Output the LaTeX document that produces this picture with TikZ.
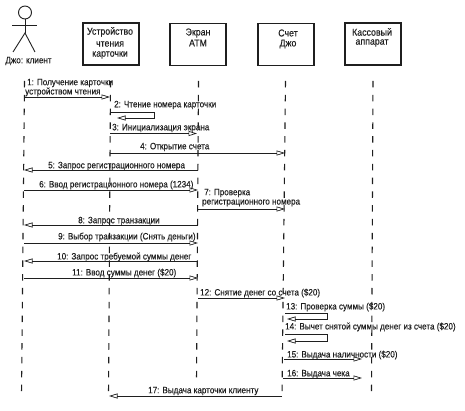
\documentclass[tikz,border=0pt]{standalone}
\usepackage{fontspec}
\setmainfont[FakeStretch=0.88,FakeBold=0.25]{Liberation Sans}
\usetikzlibrary{arrows.meta}
\definecolor{ink}{gray}{0.12}
\tikzset{
  x=1pt,y=-1pt,
  objbox/.style={draw=ink,line width=1.3pt,fill=white,minimum width=56pt,minimum height=42pt,inner sep=0pt},
  txt/.style={text=ink,font=\fontsize{10}{11}\selectfont,inner sep=0pt,anchor=center},
  lab/.style={text=ink,font=\fontsize{9.2}{10}\selectfont,inner sep=0pt,anchor=west},
  life/.style={draw=ink,line width=1.1pt,dash pattern=on 6.5pt off 7.3pt},
  msg/.style={draw=ink,line width=.8pt,-{Triangle[open,length=8.5pt,width=5pt,line width=.7pt]}},
  actorline/.style={draw=ink,line width=.9pt},
}
\begin{document}
\begin{tikzpicture}
\useasboundingbox (0,0) rectangle (465,411);
% objects
\node[objbox] (b2) at (111,44) {};
\node[objbox] (b3) at (198,44.5) {};
\node[objbox] (b4) at (286,44.5) {};
\node[objbox] (b5) at (373,44) {};
\node[txt] (t21) at (110,32) {Устройство};
\node[txt] (t22) at (110,44) {чтения};
\node[txt] (t23) at (110,55) {карточки};
\node[txt] (t31) at (198,33) {Экран};
\node[txt] (t32) at (198,43) {АТМ};
\node[txt] (t41) at (288,33) {Счет};
\node[txt] (t42) at (288,44) {Джо};
\node[txt] (t51) at (372,32) {Кассовый};
\node[txt] (t52) at (372,43) {аппарат};
% actor
\node[circle,draw=ink,line width=.9pt,minimum size=13pt,inner sep=0pt] (head) at (25,12.5) {};
\coordinate (armL) at (12,25.7);
\coordinate (armR) at (37,25.7);
\coordinate (hip) at (25,33);
\coordinate (legL) at (13,52);
\coordinate (legR) at (35,52);
\draw[actorline] (head) -- (hip);
\draw[actorline] (armL) -- (armR);
\draw[actorline] (legL) -- (hip) -- (legR);
\node[lab,anchor=center] (actor) at (28.5,61) {Джо: клиент};
% lifelines
\foreach \n/\x/\xe/\e in {1/24.5/21.5/395,2/110.5/108.5/396,3/198.5/196.5/382,4/285.5/282/396,5/373/371.5/394}{
  \coordinate (top\n) at (\x,81);
  \coordinate (bot\n) at (\xe,\e);
  \draw[life] (top\n) -- (bot\n);
}
% straight messages
\foreach \n/\a/\b/\y in {1/24/110/97,3/110/197/133.5,4/110/285/153,5/198/24/170,6/24/198/190,7/198/285/209,8/198/24/225,9/24/198/243,10/198/24/261,11/24/198/278,12/198/285/298,15/284/362/359,16/283/362/378,17/282/109/396}{
  \coordinate (ms\n) at (\a,\y);
  \coordinate (me\n) at (\b,\y);
  \draw[msg] (ms\n) -- (me\n);
}
% self messages
\foreach \n/\a/\r/\e/\t/\u in {2/110/154/117/112.5/118,13/285/327/287/313/319,14/285/327/287/334/341}{
  \coordinate (ms\n) at (\a,\t);
  \coordinate (mc\n) at (\r,\t);
  \coordinate (md\n) at (\r,\u);
  \coordinate (me\n) at (\e,\u);
  \draw[msg] (ms\n) -- (mc\n) -- (md\n) -- (me\n);
}
% labels
\foreach \n/\x/\y/\s in {
 1a/27/83/{1: Получение карточки},
 1b/25/92/{устройством чтения},
 2/114/105/{2: Чтение номера карточки},
 3/112/128/{3: Инициализация экрана},
 4/140/147/{4: Открытие счета},
 5/48/166/{5: Запрос регистрационного номера},
 6/39/185/{6: Ввод регистрационного номера (1234)},
 7a/204/193/{7: Проверка},
 7b/202/203/{регистрационного номера},
 8/78/221/{8: Запрос транзакции},
 9/58/237/{9: Выбор транзакции (Снять деньги)},
 10/57/257/{10: Запрос требуемой суммы денег},
 11/72/273/{11: Ввод суммы денег (\$20)},
 12/200/293/{12: Снятие денег со счета (\$20)},
 13/286/307/{13: Проверка суммы (\$20)},
 14/285/327/{14: Вычет снятой суммы денег из счета (\$20)},
 15/287/355/{15: Выдача наличности (\$20)},
 16/287/374/{16: Выдача чека},
 17/148/391/{17: Выдача карточки клиенту}}{
  \node[lab] (l\n) at (\x,\y) {\s};
}
\end{tikzpicture}
\end{document}
